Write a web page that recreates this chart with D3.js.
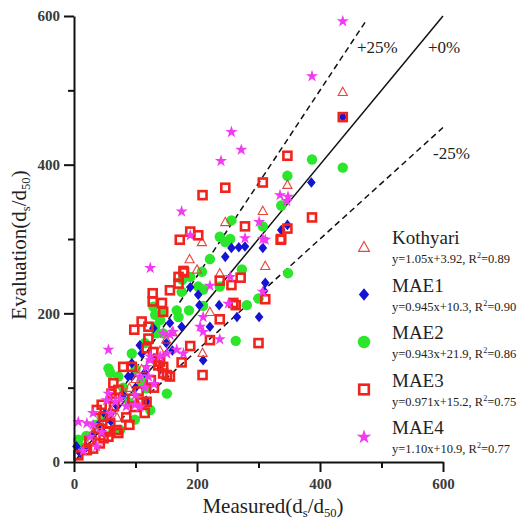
<!DOCTYPE html>
<html>
<head>
<meta charset="utf-8">
<script src="https://cdn.jsdelivr.net/npm/d3@7"></script>
<style>
  body { margin: 0; background: #fff; }
  svg { display: block; }
</style>
</head>
<body>
<script>
// ---- data: measured vs evaluated scour depth (ds/d50) ----
const seriesNames = ["Kothyari", "MAE1", "MAE2", "MAE3", "MAE4"];
const fitEquations = [
  ["y=1.05x+3.92, R", "2", "=0.89"],
  ["y=0.945x+10.3, R", "2", "=0.90"],
  ["y=0.943x+21.9, R", "2", "=0.86"],
  ["y=0.971x+15.2, R", "2", "=0.75"],
  ["y=1.10x+10.9, R", "2", "=0.77"]
];

const kothyariX = [437,347,307,246,208,188,311,221,209,200,237,60,45,30,80,100,125,150,20,70,110,90,55,35,140,160];
const kothyariY = [498,373,338,323,296,273,264,202,147,259,254,70,50,38,95,112,140,165,25,60,125,100,62,45,150,175];

const mae1X = [437,386,347,337,307,256,268,278,246,311,309,189,202,236,204,265,301,156,175,221,129,210,107,110,94,88,94,118,4,20,30,45,60,70,50,80,100,115,130,140,150,160,40,10];
const mae1Y = [464,376,319,312,288,288,289,290,276,241,230,235,225,211,211,195,195,187,182,182,180,137,157,146,133,115,115,81,21,20,35,42,55,75,65,90,100,120,140,125,160,150,50,12];

const mae2X = [387,437,347,337,307,256,237,254,246,221,273,348,208,176,189,202,210,237,300,281,210,263,129,145,167,170,175,187,132,140,132,145,94,56,72,151,110,118,99,7,64,75,59,124,134,115,10,20,35,45,90,80,100];
const mae2Y = [407,396,385,345,317,325,303,300,296,273,259,254,256,245,249,236,232,236,220,211,210,163,209,202,204,195,229,204,198,191,182,173,146,126,115,92,108,99,57,30,43,43,120,70,173,160,20,35,50,60,80,100,125];

const mae3X = [437,347,307,246,209,387,278,347,337,189,202,172,336,178,170,179,170,237,256,271,156,143,128,128,145,259,263,311,237,221,300,189,175,209,98,110,121,121,118,129,80,94,151,156,137,145,118,99,115,64,72,61,67,45,37,48,59,69,72,53,56,31,21,42,48,7,140,145,85,95,105,125,40,25,65,90,110,130];
const mae3Y = [464,412,376,369,359,329,317,314,300,310,305,299,299,257,249,255,240,244,238,248,231,214,227,216,202,214,211,219,192,164,160,156,134,117,178,189,182,166,153,148,128,128,117,115,130,128,81,74,66,106,97,92,86,77,70,61,52,43,39,41,34,18,16,25,32,9,135,119,60,85,95,110,45,28,75,50,80,100];

const mae4X = [437,387,256,272,239,175,335,348,346,301,307,278,189,311,124,221,254,307,251,210,205,210,237,178,145,161,167,151,56,140,124,118,107,121,99,107,56,53,67,31,21,31,26,37,7,156,124,45,60,75,85,100,115,130,15];
const mae4Y = [593,519,444,420,405,337,359,357,351,323,300,301,305,299,261,237,249,229,213,195,182,175,165,146,173,175,151,146,151,142,142,128,115,115,77,74,92,83,81,66,52,50,34,21,54,171,137,40,65,85,75,90,100,105,15];

const majorTicks = [0, 200, 400, 600];
const minorTicks = [100, 300, 500];

// reference lines: y = k·x  (perfect agreement and ±25 %)
const refSlopes = [1, 1.25, 0.75];
const refLabels = ["+0%", "+25%", "-25%"];
const refStart = [0, 55, 75];
const refEnd = [600, 474, 600];

// ---- layout ----
const W = 524, H = 520;
const serif = "'Liberation Serif', 'Times New Roman', serif";

const svg = d3.select("body").append("svg")
  .attr("width", W).attr("height", H)
  .style("font-family", serif);

const x = d3.scaleLinear().domain([0, 600]).range([74, 443]);
const y = d3.scaleLinear().domain([0, 600]).range([462, 16]);

// ---- reference lines ----
const refG = svg.append("g");
refSlopes.forEach((k, i) => {
  refG.append("line")
    .attr("x1", x(refStart[i])).attr("y1", y(k * refStart[i]))
    .attr("x2", x(refEnd[i])).attr("y2", y(k * refEnd[i]))
    .attr("stroke", "#111")
    .attr("stroke-width", 1.5)
    .attr("stroke-dasharray", k === 1 ? null : "6,4");
});
refG.append("text").text(refLabels[1])
  .attr("x", 357).attr("y", 53).attr("font-size", 17).attr("fill", "#222");
refG.append("text").text(refLabels[0])
  .attr("x", 428).attr("y", 53).attr("font-size", 17).attr("fill", "#222");
refG.append("text").text(refLabels[2])
  .attr("x", 433).attr("y", 159).attr("font-size", 17).attr("fill", "#222");

// ---- symbols ----
const red = "#f2231d", triRed = "#e8453c", blue = "#1414d2", green = "#2be62b", magenta = "#f23af2";

function drawSymbol(g, kind, cx, cy, s) {
  // s = 1 for the plot, a bit larger in the legend
  if (kind === "circle") {
    g.append("circle").attr("cx", cx).attr("cy", cy).attr("r", 5.2 * s).attr("fill", green);
  } else if (kind === "diamond") {
    const hx = 4.3 * s, hy = 5.3 * s;
    g.append("path")
      .attr("d", `M${cx},${cy - hy}L${cx + hx},${cy}L${cx},${cy + hy}L${cx - hx},${cy}Z`)
      .attr("fill", blue);
  } else if (kind === "triangle") {
    const h = 4.6 * s;
    g.append("path")
      .attr("d", `M${cx},${cy - h}L${cx + h},${cy + h * 0.8}L${cx - h},${cy + h * 0.8}Z`)
      .attr("fill", "none").attr("stroke", triRed).attr("stroke-width", 1.1);
  } else if (kind === "square") {
    const h = 4 * s;
    g.append("rect").attr("x", cx - h).attr("y", cy - h)
      .attr("width", 2 * h).attr("height", 2 * h)
      .attr("fill", "none").attr("stroke", red).attr("stroke-width", 2.6);
  } else if (kind === "star") {
    g.append("path")
      .attr("d", d3.symbol(d3.symbolStar, 46 * s * s)())
      .attr("transform", `translate(${cx},${cy})`)
      .attr("fill", magenta);
  }
}

const series = [
  { kind: "triangle", xs: kothyariX, ys: kothyariY },
  { kind: "diamond", xs: mae1X, ys: mae1Y },
  { kind: "circle", xs: mae2X, ys: mae2Y },
  { kind: "square", xs: mae3X, ys: mae3Y },
  { kind: "star", xs: mae4X, ys: mae4Y }
];

// drawing order: circles, diamonds, triangles, squares, stars
const drawOrder = [2, 1, 0, 3, 4];
const pts = svg.append("g");
drawOrder.forEach(si => {
  const s = series[si];
  const g = pts.append("g");
  s.xs.forEach((v, i) => drawSymbol(g, s.kind, x(v), y(s.ys[i]), 1));
});

// ---- axes ----
function styleAxis(g) {
  g.select(".domain").attr("stroke", "#111").attr("stroke-width", 2);
  g.selectAll(".tick line").attr("stroke", "#111").attr("stroke-width", 2);
  g.selectAll(".tick text")
    .attr("font-family", serif).attr("font-size", 15)
    .attr("font-weight", "bold").attr("fill", "#3a3a3a");
}

const xAxisG = svg.append("g").attr("transform", `translate(0,${y(0)})`)
  .call(d3.axisBottom(x).tickValues(majorTicks).tickSize(10).tickSizeOuter(0).tickPadding(6));
styleAxis(xAxisG);
const xMinor = svg.append("g").attr("transform", `translate(0,${y(0)})`)
  .call(d3.axisBottom(x).tickValues(minorTicks).tickSize(6).tickSizeOuter(0).tickFormat(""));
xMinor.select(".domain").remove();
styleAxis(xMinor);

const yAxisG = svg.append("g").attr("transform", `translate(${x(0)},0)`)
  .call(d3.axisLeft(y).tickValues(majorTicks).tickSize(10).tickSizeOuter(0).tickPadding(4));
styleAxis(yAxisG);
const yMinor = svg.append("g").attr("transform", `translate(${x(0)},0)`)
  .call(d3.axisLeft(y).tickValues(minorTicks).tickSize(6).tickSizeOuter(0).tickFormat(""));
yMinor.select(".domain").remove();
styleAxis(yMinor);

// ---- axis titles with subscripts ----
function ratioTitle(t, lead) {
  t.append("tspan").text(lead + "(d");
  t.append("tspan").text("s").attr("font-size", "0.6em").attr("dy", 4);
  t.append("tspan").text("/d").attr("dy", -4);
  t.append("tspan").text("50").attr("font-size", "0.6em").attr("dy", 4);
  t.append("tspan").text(")").attr("dy", -4);
}
const xt = svg.append("text").attr("x", 273).attr("y", 513)
  .attr("text-anchor", "middle").attr("font-size", 21).attr("fill", "#222");
ratioTitle(xt, "Measured");
const yt = svg.append("text")
  .attr("transform", "translate(26,245) rotate(-90)")
  .attr("text-anchor", "middle").attr("font-size", 21).attr("fill", "#222");
ratioTitle(yt, "Evaluation");

// ---- legend ----
const legend = svg.append("g");
const legendTop = 237, legendStep = 47.5;
series.forEach((s, i) => {
  const cy = legendTop + i * legendStep;
  drawSymbol(legend, s.kind, 364, cy + 10, 1.2);
  legend.append("text").text(seriesNames[i])
    .attr("x", 392).attr("y", cy + 7)
    .attr("font-size", 19).attr("fill", "#222");
  const eq = legend.append("text")
    .attr("x", 392).attr("y", cy + 26)
    .attr("font-size", 12.5).attr("fill", "#222");
  eq.append("tspan").text(fitEquations[i][0]);
  eq.append("tspan").text(fitEquations[i][1]).attr("font-size", "0.65em").attr("dy", -5);
  eq.append("tspan").text(fitEquations[i][2]).attr("dy", 5);
});
</script>
</body>
</html>
